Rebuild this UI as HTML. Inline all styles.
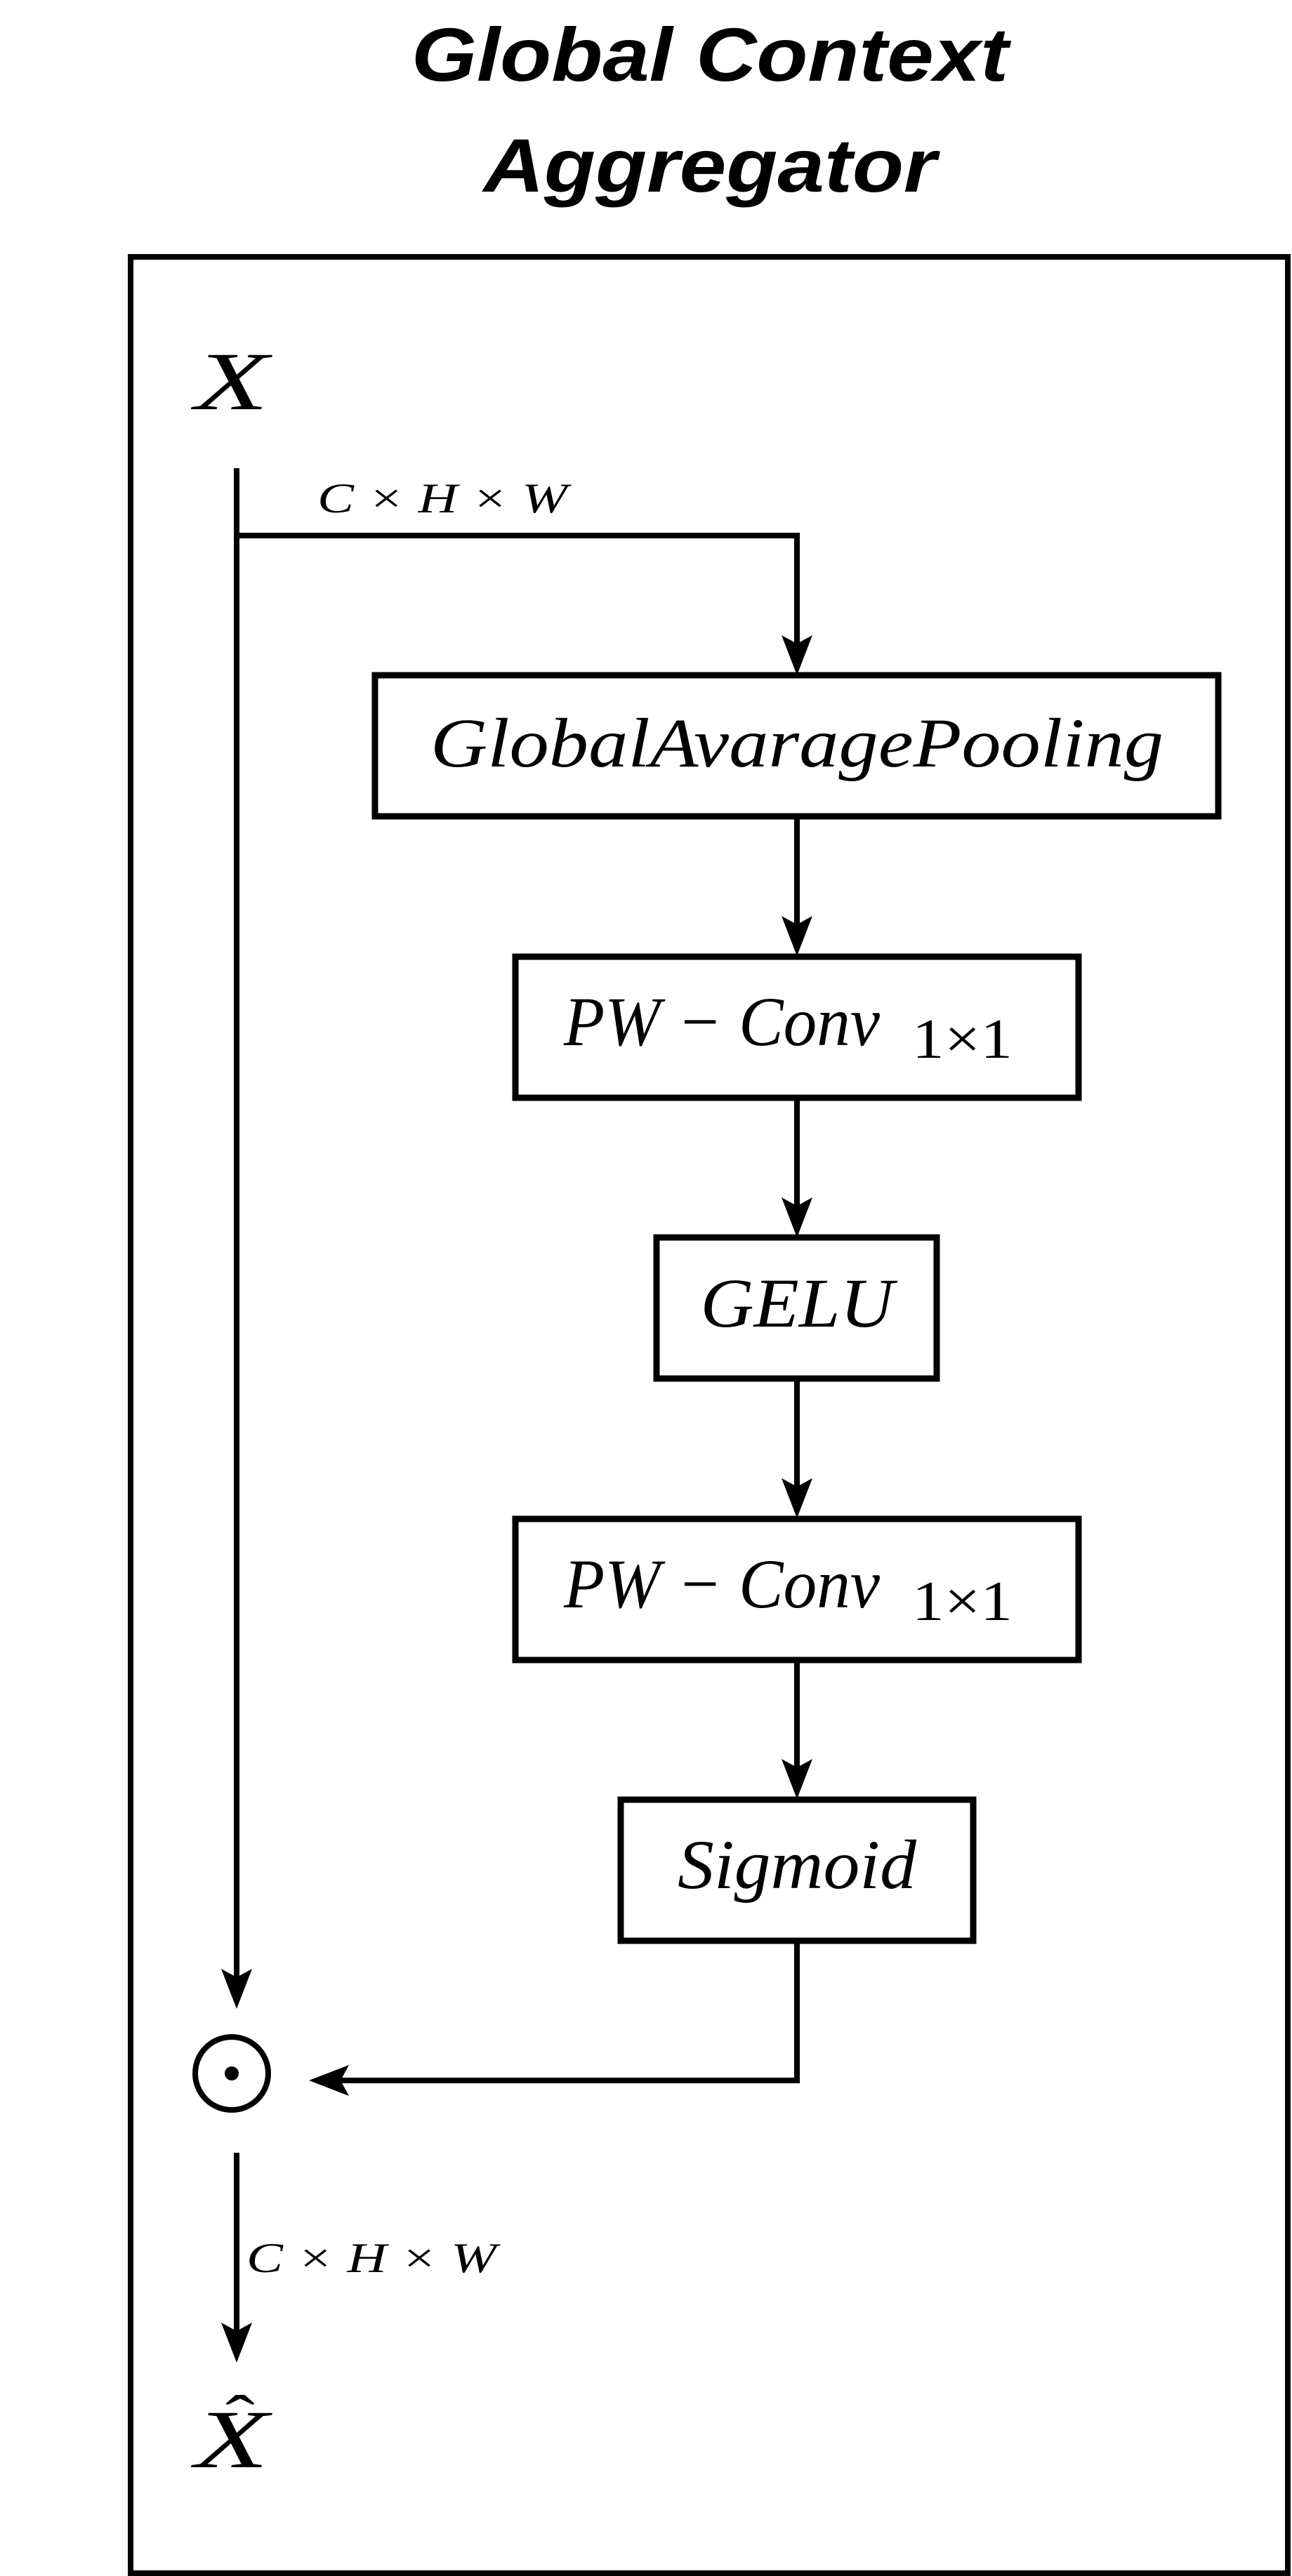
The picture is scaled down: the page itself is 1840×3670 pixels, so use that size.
<!DOCTYPE html>
<html><head><meta charset="utf-8"><style>
html,body{margin:0;padding:0;background:#fff;}
svg{display:block;}
.t{font-family:"Liberation Serif",serif;font-style:italic;fill:#000;}
</style></head><body>
<svg width="1840" height="3670" viewBox="0 0 1840 3670" xmlns="http://www.w3.org/2000/svg">
<text x="1011" y="115" text-anchor="middle" font-family="Liberation Sans, sans-serif" font-weight="bold" font-style="italic" font-size="108" textLength="850" lengthAdjust="spacingAndGlyphs">Global Context</text>
<text x="1011" y="273" text-anchor="middle" font-family="Liberation Sans, sans-serif" font-weight="bold" font-style="italic" font-size="108" textLength="645" lengthAdjust="spacingAndGlyphs">Aggregator</text>
<rect x="186" y="366" width="1648" height="3300" fill="none" stroke="#000" stroke-width="8"/>
<text class="t" x="330" y="583" text-anchor="middle" font-size="118" textLength="105" lengthAdjust="spacingAndGlyphs">X</text>
<g stroke="#000" stroke-width="8" fill="none">
<line x1="337" y1="667" x2="337" y2="2830"/>
<polyline points="337,763 1135,763 1135,930"/>
<line x1="1135" y1="1163" x2="1135" y2="1332"/>
<line x1="1135" y1="1564" x2="1135" y2="1733"/>
<line x1="1135" y1="1964" x2="1135" y2="2133"/>
<line x1="1135" y1="2364" x2="1135" y2="2533"/>
<polyline points="1135,2765 1135,2964 470,2964"/>
<line x1="337" y1="3067" x2="337" y2="3334"/>
<rect x="534" y="962" width="1201" height="201" stroke-width="9"/>
<rect x="734" y="1363" width="802" height="201" stroke-width="9"/>
<rect x="935" y="1763" width="399" height="201" stroke-width="9"/>
<rect x="734" y="2164" width="802" height="201" stroke-width="9"/>
<rect x="884" y="2564" width="502" height="201" stroke-width="9"/>
<circle cx="330" cy="2954" r="52" stroke-width="8"/>
</g>
<g fill="#000">
<path d="M1135,962 L1113,905 L1135,917 L1157,905 Z"/>
<path d="M1135,1362 L1113,1305 L1135,1317 L1157,1305 Z"/>
<path d="M1135,1763 L1113,1706 L1135,1718 L1157,1706 Z"/>
<path d="M1135,2163 L1113,2106 L1135,2118 L1157,2106 Z"/>
<path d="M1135,2563 L1113,2506 L1135,2518 L1157,2506 Z"/>
<path d="M337,2862 L315,2805 L337,2817 L359,2805 Z"/>
<path d="M337,3366 L315,3309 L337,3321 L359,3309 Z"/>
<path d="M440,2964 L497,2942 L485,2964 L497,2986 Z"/>
<circle cx="330" cy="2954" r="10"/>
</g>
<text class="t" x="452" y="730" font-size="60" textLength="356" lengthAdjust="spacingAndGlyphs">C × H × W</text>
<text class="t" x="351" y="3237" font-size="60" textLength="356" lengthAdjust="spacingAndGlyphs">C × H × W</text>
<text class="t" x="613" y="1092" font-size="100" textLength="1044" lengthAdjust="spacingAndGlyphs">GlobalAvaragePooling</text>
<text class="t" x="803" y="1489" font-size="100" textLength="450" lengthAdjust="spacingAndGlyphs">PW − Conv</text>
<text font-family="Liberation Serif, serif" font-size="80" x="1299" y="1507" textLength="143" lengthAdjust="spacingAndGlyphs">1×1</text>
<text class="t" x="803" y="2290" font-size="100" textLength="450" lengthAdjust="spacingAndGlyphs">PW − Conv</text>
<text font-family="Liberation Serif, serif" font-size="80" x="1299" y="2308" textLength="143" lengthAdjust="spacingAndGlyphs">1×1</text>
<text class="t" x="1135" y="1890" text-anchor="middle" font-size="100" textLength="275" lengthAdjust="spacingAndGlyphs">GELU</text>
<text class="t" x="1135" y="2690" text-anchor="middle" font-size="100" textLength="340" lengthAdjust="spacingAndGlyphs">Sigmoid</text>
<text class="t" x="330" y="3515" text-anchor="middle" font-size="118" textLength="105" lengthAdjust="spacingAndGlyphs">X</text>
<text font-family="Liberation Serif, serif" x="342" y="3475" text-anchor="middle" font-size="90" textLength="42" lengthAdjust="spacingAndGlyphs">ˆ</text>
</svg>
</body></html>
